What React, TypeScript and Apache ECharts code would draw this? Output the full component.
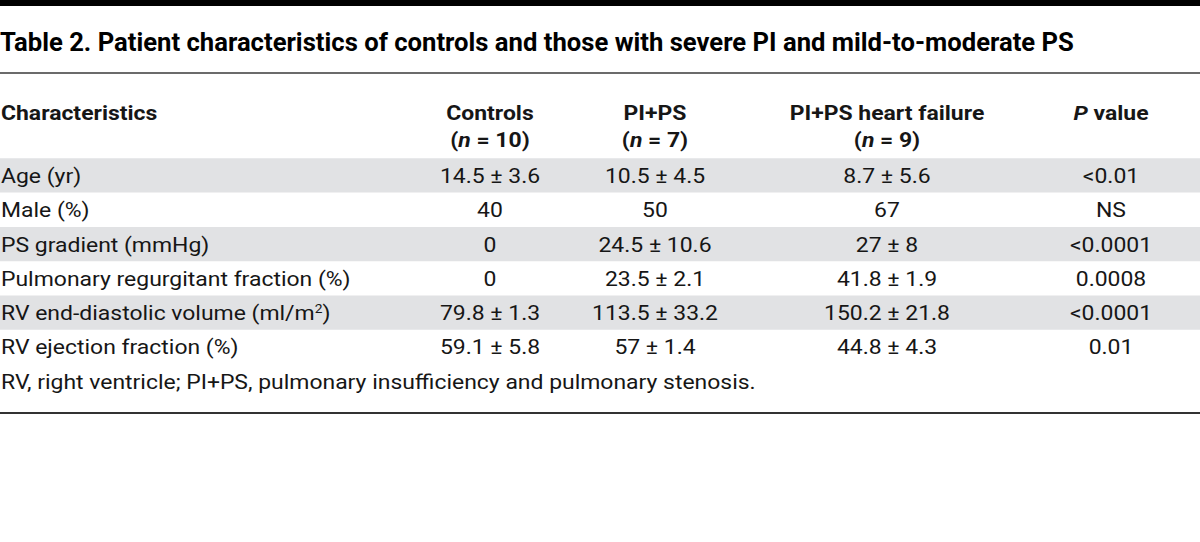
import React, { useEffect, useRef } from "react";
import * as echarts from "echarts";

const TITLE =
  "Table 2. Patient characteristics of controls and those with severe PI and mild-to-moderate PS";
const HEAD_CHARACTERISTICS = "Characteristics";
const GROUPS = ["Controls", "PI+PS", "PI+PS heart failure"];
const GROUP_N = [10, 7, 9];
const CHARACTERISTICS = [
  "Age (yr)",
  "Male (%)",
  "PS gradient (mmHg)",
  "Pulmonary regurgitant fraction (%)",
  "RV end-diastolic volume (ml/m{sup|2})",
  "RV ejection fraction (%)",
];
const CONTROLS = ["14.5 ± 3.6", "40", "0", "0", "79.8 ± 1.3", "59.1 ± 5.8"];
const PI_PS = ["10.5 ± 4.5", "50", "24.5 ± 10.6", "23.5 ± 2.1", "113.5 ± 33.2", "57 ± 1.4"];
const PI_PS_HF = ["8.7 ± 5.6", "67", "27 ± 8", "41.8 ± 1.9", "150.2 ± 21.8", "44.8 ± 4.3"];
const P_VALUES = ["<0.01", "NS", "<0.0001", "0.0008", "<0.0001", "0.01"];
const FOOTNOTE =
  "RV, right ventricle; PI+PS, pulmonary insufficiency and pulmonary stenosis.";

const FONT = "Roboto, 'Noto Sans', sans-serif";
const INK = "#161616";
const BAND = "#e1e2e4";

function measure(text: string, font: string): number {
  const c = document.createElement("canvas");
  const ctx = c.getContext("2d");
  if (!ctx) return 0;
  ctx.font = font;
  return ctx.measureText(text).width;
}

export default function App() {
  const ref = useRef<HTMLDivElement>(null);
  useEffect(() => {
    document.body.style.margin = "0";
    if (!ref.current) return;
    const chart = echarts.init(ref.current, undefined, { renderer: "svg" });

    const titleSize = 25;
    const titleW = measure(TITLE, `bold ${titleSize}px Roboto`) || 1075;
    const titleScale = 1075 / titleW;

    const bodySize = 20;
    const footW = measure(FOOTNOTE, `${bodySize}px Roboto`) || 755;
    const bodyScale = 755 / footW;

    const headSize = 20;

    const colX = [490, 655, 887, 1111];
    const rowTop0 = 158.3;
    const rowH = 34.3;

    const els: any[] = [];
    els.push({ type: "rect", shape: { x: 0, y: 0, width: 1200, height: 6 }, style: { fill: "#000" } });
    els.push({
      type: "text",
      x: 0,
      y: 43,
      scaleX: titleScale,
      style: {
        text: TITLE,
        fontFamily: FONT,
        fontWeight: "bold",
        fontSize: titleSize,
        fill: "#000",
        align: "left",
        verticalAlign: "middle",
      },
    });
    els.push({
      type: "line",
      shape: { x1: 0, y1: 73, x2: 1200, y2: 73 },
      style: { stroke: "#3a3a3a", lineWidth: 1.5 },
    });

    const headStyle = (text: string, align: string, rich?: any) => ({
      text,
      fontFamily: FONT,
      fontWeight: "bold",
      fontSize: headSize,
      fill: INK,
      align,
      verticalAlign: "middle",
      rich,
    });
    els.push({ type: "text", x: 1, y: 113.5, scaleX: bodyScale, style: headStyle(HEAD_CHARACTERISTICS, "left") });
    const italicRich = {
      it: { fontFamily: FONT, fontWeight: "bold", fontStyle: "italic", fontSize: headSize, fill: INK },
    };
    GROUPS.forEach((g, i) => {
      els.push({ type: "text", x: colX[i], y: 113.5, scaleX: bodyScale, style: headStyle(g, "center") });
      els.push({
        type: "text",
        x: colX[i],
        y: 140,
        scaleX: bodyScale,
        style: headStyle(`({it|n} = ${GROUP_N[i]})`, "center", italicRich),
      });
    });
    els.push({
      type: "text",
      x: colX[3],
      y: 113.5,
      scaleX: bodyScale,
      style: headStyle(`{it|P} value`, "center", italicRich),
    });

    const cols = [CONTROLS, PI_PS, PI_PS_HF, P_VALUES];
    const bodyStyle = (text: string, align: string) => ({
      text,
      fontFamily: FONT,
      fontSize: bodySize,
      fill: INK,
      align,
      verticalAlign: "middle",
      rich: {
        sup: { fontFamily: FONT, fontSize: 12, fill: INK, verticalAlign: "top", lineHeight: 20 },
      },
    });
    CHARACTERISTICS.forEach((name, r) => {
      const top = rowTop0 + r * rowH;
      if (r % 2 === 0) {
        els.push({ type: "rect", shape: { x: 0, y: top, width: 1200, height: rowH }, style: { fill: BAND } });
      }
      const cy = top + rowH / 2 + 0.5;
      els.push({ type: "text", x: 1, y: cy, scaleX: bodyScale, style: bodyStyle(name, "left") });
      cols.forEach((col, c) => {
        els.push({ type: "text", x: colX[c], y: cy, scaleX: bodyScale, style: bodyStyle(col[r], "center") });
      });
    });
    const footY = rowTop0 + CHARACTERISTICS.length * rowH + rowH / 2 + 0.5;
    els.push({ type: "text", x: 1, y: footY, scaleX: bodyScale, style: bodyStyle(FOOTNOTE, "left") });
    els.push({
      type: "line",
      shape: { x1: 0, y1: 413, x2: 1200, y2: 413 },
      style: { stroke: "#333", lineWidth: 2 },
    });

    chart.setOption({
      animation: false,
      backgroundColor: "#fff",
      graphic: { elements: els },
    });
    return () => chart.dispose();
  }, []);
  return <div ref={ref} style={{ width: 1200, height: 542 }} />;
}
